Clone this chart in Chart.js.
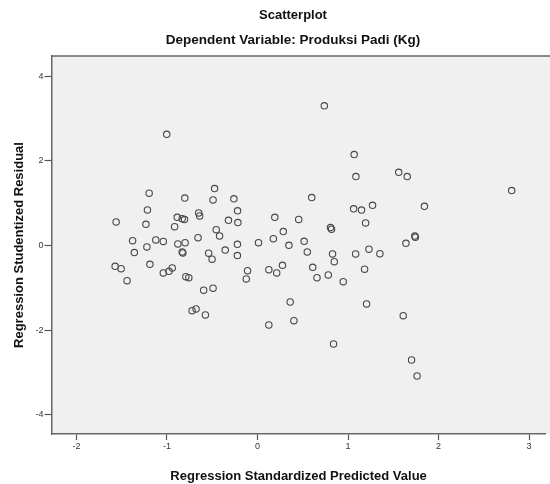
<!DOCTYPE html>
<html>
<head>
<meta charset="utf-8">
<script src="https://cdn.jsdelivr.net/npm/chart.js@4/dist/chart.umd.min.js"></script>
<style>
  html, body { margin: 0; padding: 0; background: #fff; }
  #wrap { width: 550px; height: 484px; overflow: hidden; }
</style>
</head>
<body>
<div id="wrap"><canvas id="residualPlot" width="550" height="484"></canvas></div>
<script>
// values
const predictedValues = [
    -1.003, -1.197, -1.216, -1.562, -1.233, -1.380, -1.124, -1.041, -1.222, -1.361,
    -1.189, -1.573, -1.507, -1.441, -1.041, -0.978, -0.942, -0.474, -0.803, -0.491,
    -0.261, -0.220, -0.321, -0.217, -0.650, -0.639, -0.887, -0.832, -0.806, -0.916,
    -0.456, -0.419, -0.880, -0.800, -0.657, -0.832, -0.825, -0.540, -0.502, -0.357,
    -0.222, -0.222, 0.011, -0.792, -0.759, -0.110, -0.124, -0.595, -0.491, -0.723,
    -0.679, -0.576, 0.125, 0.212, 0.276, 0.361, 0.402, 0.125, 0.191, 0.285,
    0.175, 0.347, 0.455, 0.599, 0.515, 0.550, 0.807, 0.818, 1.068, 1.087,
    1.062, 1.084, 0.829, 0.848, 0.610, 0.657, 0.782, 0.947, 0.738, 1.560,
    1.654, 2.808, 1.844, 1.149, 1.271, 1.194, 1.738, 1.744, 1.640, 1.231,
    1.352, 1.183, 0.840, 1.205, 1.610, 1.702, 1.763
];
const residualValues = [
    2.63, 1.24, 0.844, 0.56, 0.504, 0.118, 0.135, 0.10, -0.03, -0.165,
    -0.442, -0.489, -0.544, -0.827, -0.645, -0.608, -0.527, 1.348, 1.123, 1.080,
    1.106, 0.823, 0.598, 0.544, 0.773, 0.702, 0.669, 0.638, 0.615, 0.449,
    0.378, 0.229, 0.040, 0.071, 0.189, -0.149, -0.173, -0.177, -0.319, -0.106,
    0.031, -0.236, 0.071, -0.733, -0.757, -0.591, -0.787, -1.052, -1.005, -1.537,
    -1.496, -1.638, -0.567, -0.645, -0.466, -1.331, -1.773, -1.875, 0.669, 0.331,
    0.165, 0.007, 0.619, 1.135, 0.102, -0.149, 0.426, 0.390, 2.151, 1.631,
    0.870, -0.196, -0.196, -0.378, -0.513, -0.757, -0.693, -0.851, 3.303, 1.733,
    1.631, 1.300, 0.929, 0.839, 0.953, 0.537, 0.225, 0.201, 0.054, -0.083,
    -0.189, -0.556, -2.324, -1.378, -1.655, -2.702, -3.080
];
const xTickValues = [-2, -1, 0, 1, 2, 3];
const yTickValues = [-4, -2, 0, 2, 4];

const chartTitle = 'Scatterplot';
const chartSubtitle = 'Dependent Variable: Produksi Padi (Kg)';
const xAxisTitle = 'Regression Standardized Predicted Value';
const yAxisTitle = 'Regression Studentized Residual';

const fontFamily = '"Liberation Sans", Arial, sans-serif';

// grey plot background, top frame line and the two title lines
const spssFrame = {
    id: 'spssFrame',
    beforeDraw(chart) {
        const { ctx, chartArea: a } = chart;
        ctx.save();
        ctx.fillStyle = '#f0f0f0';
        ctx.fillRect(a.left, a.top, a.right - a.left + 10, a.bottom - a.top);
        ctx.restore();
    },
    afterDraw(chart) {
        const { ctx, chartArea: a } = chart;
        ctx.save();
        ctx.strokeStyle = '#666';
        ctx.lineWidth = 1.5;
        ctx.beginPath();
        ctx.moveTo(a.left, a.top);
        ctx.lineTo(a.right + 10, a.top);
        ctx.stroke();

        ctx.fillStyle = '#111';
        ctx.textAlign = 'center';
        ctx.textBaseline = 'middle';
        ctx.font = 'bold 13px ' + fontFamily;
        ctx.fillText(chartTitle, 293, 15);
        ctx.font = 'bold 13.5px ' + fontFamily;
        ctx.fillText(chartSubtitle, 293, 40);
        ctx.restore();
    }
};

const points = predictedValues.map((x, i) => ({ x: x, y: residualValues[i] }));

new Chart(document.getElementById('residualPlot'), {
    type: 'scatter',
    data: {
        datasets: [{
            data: points,
            pointStyle: 'circle',
            pointRadius: 3.2,
            pointHoverRadius: 3.2,
            borderWidth: 1.1,
            borderColor: '#484848',
            backgroundColor: 'rgba(0,0,0,0)'
        }]
    },
    options: {
        responsive: false,
        animation: false,
        events: [],
        layout: { padding: { top: 56, right: -5, bottom: 0, left: 0 } },
        plugins: {
            legend: { display: false },
            tooltip: { enabled: false }
        },
        scales: {
            x: {
                type: 'linear',
                min: -2.276,
                max: 3.184,
                afterBuildTicks: scale => { scale.ticks = xTickValues.map(v => ({ value: v })); },
                afterFit: scale => { scale.height = 50; },
                ticks: {
                    color: '#333',
                    padding: 1,
                    font: { family: fontFamily, size: 9 }
                },
                grid: {
                    drawOnChartArea: false,
                    drawTicks: true,
                    tickLength: 6,
                    tickColor: '#555',
                    tickWidth: 1.2
                },
                border: { color: '#666', width: 1.5 },
                title: {
                    display: true,
                    text: xAxisTitle,
                    color: '#111',
                    padding: { top: 4, bottom: 0 },
                    font: { family: fontFamily, size: 13, weight: 'bold' }
                }
            },
            y: {
                type: 'linear',
                min: -4.45,
                max: 4.48,
                afterBuildTicks: scale => { scale.ticks = yTickValues.map(v => ({ value: v })); },
                afterFit: scale => { scale.width = 51.5; },
                ticks: {
                    color: '#333',
                    padding: 1,
                    font: { family: fontFamily, size: 9 }
                },
                grid: {
                    drawOnChartArea: false,
                    drawTicks: true,
                    tickLength: 7,
                    tickColor: '#555',
                    tickWidth: 1.2
                },
                border: { color: '#666', width: 1.5 },
                title: {
                    display: true,
                    text: yAxisTitle,
                    color: '#111',
                    padding: { top: 12, bottom: 0 },
                    font: { family: fontFamily, size: 13, weight: 'bold' }
                }
            }
        }
    },
    plugins: [spssFrame]
});
</script>
</body>
</html>
